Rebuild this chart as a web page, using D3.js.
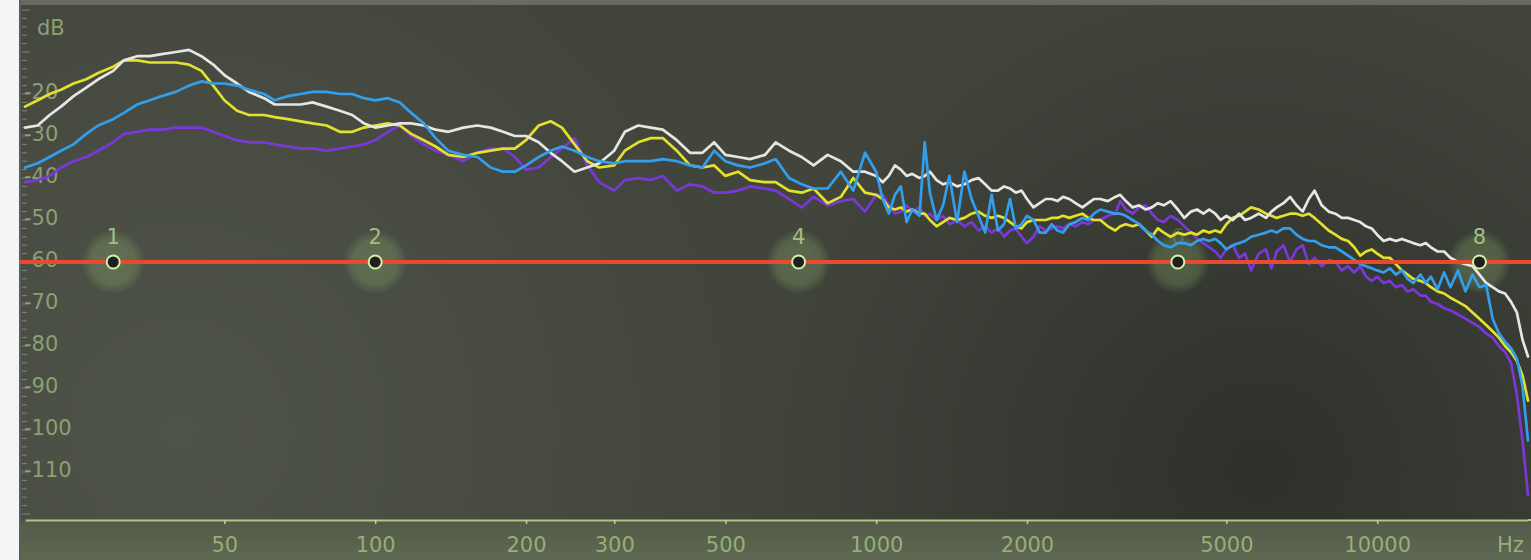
<!DOCTYPE html>
<html><head><meta charset="utf-8">
<script src="https://cdn.jsdelivr.net/npm/d3@7"></script>
<style>html,body{margin:0;padding:0;background:#f4f5f6;overflow:hidden}</style>
</head><body><svg id="c" width="1531" height="560"></svg>
<script>
// ---- data ----
const r40Freqs = [20,21.2,22.4,23.6,25,26.5,28,30,31.5,33.5,35.5,37.5,40,42.5,45,47.5,50,53,56,60,63,67,71,75,80,85,90,95,100,106,112,118,125,132,140,150,160,170,180,190,200,212,224,236,250,265,280,300,315,335,355,375,400,425,450,475,500,530,560,600,630,670,710,750,800,850,900,950,1000];
const r80Freqs = [1030,1060,1090,1120,1150,1180,1220,1250,1280,1320,1360,1400,1450,1500,1550,1600,1650,1700,1750,1800,1850,1900,1950,2000,2060,2120,2180,2240,2300,2360,2430,2500,2580,2650,2720,2800,2900,3000,3070,3150,3250,3350,3450,3550,3650,3750,3870,4000,4120,4250,4370,4500,4620,4750,4870,5000,5150,5300,5450,5600,5800,6000,6150,6300,6500,6700,6900,7100,7300,7500,7750,8000,8250,8500,8750,9000,9250,9500,9750,10000,10300,10600,10900,11200,11500,11800,12200,12500,12800,13200,13600,14000,14500,15000,15500,16000,16500,17000,17500,18000,18500,19000,19500,20000];
const freqs = r40Freqs.concat(r80Freqs);

const whiteDb = [-28,-27.5,-25,-23,-20.5,-18.5,-16.5,-14.5,-12,-11,-11,-10.5,-10,-9.5,-11,-13,-15.5,-17.5,-19.5,-21,-22.5,-22.5,-22.5,-22,-23,-24,-25,-27,-28,-27.5,-27,-27,-27.5,-28.5,-29,-28,-27.5,-28,-29,-30,-30,-31.5,-34,-36,-38.5,-37.5,-36.5,-33.5,-29,-27.5,-28,-28.5,-31,-34,-34,-31.5,-34.5,-35,-35.5,-34.5,-31.5,-33.5,-35,-37,-34.5,-36,-38.5,-38.5,-39.5,
 -41,-39.5,-37,-38,-39.5,-39,-40,-39.5,-38.5,-40.5,-41.5,-41,-42,-41.5,-40.5,-40,-41.5,-43,-43,-42,-42.5,-43.5,-43,-45,-47,-46,-45,-45,-45.5,-44.5,-45,-46,-47,-46,-45,-45,-45.5,-44.5,-44,-45.5,-47,-46.5,-47.5,-47,-46,-46.5,-45.5,-47.5,-49.5,-48,-47.5,-48.5,-47.5,-48.5,-50,-49,-50,-48.5,-50,-49.5,-48.5,-49.5,-48,-47,-46,-44.5,-46.5,-48,-45,-43,-46.5,-48,-48.5,-49.5,-49.5,-50,-50.5,-51.5,-52,-53.5,-55,-54.5,-55,-54.5,-55,-55.5,-56,-55.5,-56.5,-57.5,-57.5,-59,-60,-60.5,-61,-63,-65,-66,-67,-67.5,-69.5,-72,-78.5,-82.5];
const yellowDb = [-23,-21.5,-20,-19,-17.5,-16.5,-15,-13.5,-12,-12,-12.5,-12.5,-12.5,-13,-14.5,-18,-21.5,-24,-25,-25,-25.5,-26,-26.5,-27,-27.5,-29,-29,-28,-27.5,-27,-27.5,-29.5,-31,-32.5,-34.5,-35,-34,-33.5,-33,-33,-31,-27.5,-26.5,-28,-32,-36,-37.5,-37,-33.5,-31.5,-30.5,-30.5,-33.5,-37,-37.5,-37,-39.5,-38.5,-40.5,-41,-41,-43,-43.5,-42.5,-46,-44.5,-40,-43.5,-44,
 -45,-47,-47.5,-47,-48,-47.5,-48.5,-48.5,-50,-51.5,-50.5,-49.5,-50,-49.5,-48.5,-48,-49,-49.5,-49,-49.5,-50.5,-51.5,-52,-50.5,-50,-50,-50,-49.5,-49.5,-49,-49.5,-49,-48.5,-49.5,-50,-50,-51.5,-52.5,-51.5,-51,-51.5,-51,-52.5,-54,-52,-53,-54,-53,-53.5,-53,-53.5,-52.5,-53,-52.5,-53,-51,-49.5,-49,-48,-47,-47.5,-48.5,-49,-49.5,-49,-48.5,-48.5,-49,-48.5,-49.5,-51,-52.5,-53.5,-54.5,-55,-56.5,-58.5,-57.5,-57,-58,-59,-59,-60.5,-62,-63,-64,-64.5,-65,-66,-67,-67.5,-68.5,-69.5,-70.5,-72,-73.5,-75,-76.5,-78,-80,-81.5,-83.5,-87,-93];
const blueDb = [-37.5,-36.5,-35,-33.5,-32,-29.5,-27.5,-26,-24.5,-22.5,-21.5,-20.5,-19.5,-18,-17,-17.5,-17.5,-18,-19,-20,-21.5,-20.5,-20,-19.5,-19.5,-20,-20,-21,-21.5,-21,-22,-24.5,-27,-30.5,-33.5,-34.5,-35,-37.5,-38.5,-38.5,-37,-35,-33.5,-32.5,-33.5,-35,-36,-36.5,-36,-36,-36,-35.5,-36,-37,-37.5,-33.5,-36,-37,-37.5,-36.5,-35.5,-40,-41.5,-42.5,-42.5,-38.5,-43,-34,-38.5,
 -45,-48.5,-44,-42,-50.5,-47.5,-49,-31.5,-43.5,-50,-46.5,-39.5,-50.5,-38.5,-45,-49,-53,-44,-52.5,-51,-45,-52,-51,-49,-50,-53,-53,-51,-52.5,-53,-51,-50.5,-49.5,-50,-48.5,-47.5,-48,-48.5,-48.5,-49,-50,-51,-52.5,-53.5,-55,-56,-56.5,-55.5,-55.5,-56,-55,-54.5,-55,-54.5,-55.5,-57,-56,-55.5,-55,-54,-53.5,-53,-52.5,-53,-52,-52,-53.5,-54.5,-55,-55,-56,-56.5,-56.5,-57.5,-58.5,-59.5,-60.5,-61,-61.5,-62,-62.5,-61.5,-63,-62,-64,-65,-63,-65,-63.5,-66.5,-62.5,-66,-62,-67,-63,-66,-65.5,-73.5,-77,-79,-80.5,-83,-89.5,-102.5];
const purpleDb = [-41,-40.5,-39.5,-37.5,-36,-35,-33.5,-31.5,-29.5,-29,-28.5,-28.5,-28,-28,-28,-29,-30,-31,-31.5,-31.5,-32,-32.5,-33,-33,-33.5,-33,-32.5,-32,-31,-29,-27.5,-30,-32,-33.5,-34.5,-36,-34,-33,-33,-35,-38,-37.5,-35,-33,-30.5,-37,-41,-43,-40.5,-40,-40.5,-39.5,-43,-41.5,-42,-43.5,-43.5,-43,-42,-42.5,-43,-45,-47,-44.5,-46.5,-45.5,-45,-48,-44,
 -44,-46.5,-48.5,-48,-46.5,-48,-47,-49,-48.5,-50,-49,-51,-50,-51.5,-50.5,-52.5,-51.5,-53,-52,-54,-52.5,-52,-54,-55.5,-54,-51.5,-52.5,-52,-51.5,-52,-51,-51.5,-50.5,-51,-50,-50,-49,-48.5,-45.5,-47.5,-48.5,-47,-46.5,-48.5,-50,-50.5,-49,-50,-51.5,-53,-54.5,-55.5,-56.5,-57.5,-59,-57,-56,-59,-58,-62,-58,-57,-61.5,-57.5,-56,-60,-57,-56,-60.5,-59,-61,-59.5,-60,-62,-61,-62.5,-61,-63.5,-64.5,-63.5,-65,-64.5,-66,-65.5,-67,-66.5,-68,-68,-69.5,-70,-71,-71.5,-72.5,-73.5,-74.5,-75.5,-77,-78,-80,-81.5,-84,-91.5,-102.5,-115.5];

const seriesNames = ["purple","yellow","white","blue"];
const seriesValues = {purple: purpleDb, yellow: yellowDb, white: whiteDb, blue: blueDb};
const seriesColors = {purple:"#7a38d8", yellow:"#e3e12e", white:"#e6e6e2", blue:"#339fea"};

const xTickValues = [50,100,200,300,500,1000,2000,5000,10000];
const xTickLabels = ["50","100","200","300","500","1000","2000","5000","10000"];
const yTickValues = [-20,-30,-40,-50,-60,-70,-80,-90,-100,-110];
const yTickLabels = ["-20","-30","-40","-50","-60","-70","-80","-90","-100","-110"];
const bandFreqs = [30,100,700,4000,16000];
const bandLabels = ["1","2","4","6","8"];
const bandLabelOpacity = [1,1,1,0.25,1];
const bandLevel = -60;

// ---- chart ----
const W = 1531, H = 560;
const svg = d3.select("#c");
const x = d3.scaleLog().domain([20,20000]).range([25,1528]);
const y = d3.scaleLinear().domain([0,-120]).range([10,514]);
const FONT = "'DejaVu Sans', Verdana, sans-serif";

const defs = svg.append("defs");
const rg1 = defs.append("radialGradient").attr("id","dark").attr("gradientUnits","userSpaceOnUse")
  .attr("cx",1260).attr("cy",470).attr("r",520);
rg1.append("stop").attr("offset",0).attr("stop-color","#2c3029").attr("stop-opacity",0.95);
rg1.append("stop").attr("offset",1).attr("stop-color","#2c3029").attr("stop-opacity",0);
const rg2 = defs.append("radialGradient").attr("id","light").attr("gradientUnits","userSpaceOnUse")
  .attr("cx",180).attr("cy",430).attr("r",560);
rg2.append("stop").attr("offset",0).attr("stop-color","#50554a").attr("stop-opacity",0.9);
rg2.append("stop").attr("offset",1).attr("stop-color","#50554a").attr("stop-opacity",0);
const lg = defs.append("linearGradient").attr("id","bottom").attr("x1",0).attr("y1",0).attr("x2",0).attr("y2",1);
lg.append("stop").attr("offset",0).attr("stop-color","#535b48");
lg.append("stop").attr("offset",1).attr("stop-color","#5e6852");
const halo = defs.append("radialGradient").attr("id","halo");
halo.append("stop").attr("offset",0).attr("stop-color","#9fcf7c").attr("stop-opacity",0.28);
halo.append("stop").attr("offset",0.7).attr("stop-color","#9fcf7c").attr("stop-opacity",0.22);
halo.append("stop").attr("offset",1).attr("stop-color","#9fcf7c").attr("stop-opacity",0);

svg.append("rect").attr("width",W).attr("height",H).attr("fill","#f4f5f6");
svg.append("rect").attr("x",19).attr("y",0).attr("width",W-19).attr("height",H).attr("fill","#42453c");
svg.append("rect").attr("x",19).attr("y",0).attr("width",W-19).attr("height",H).attr("fill","url(#light)");
svg.append("rect").attr("x",19).attr("y",0).attr("width",W-19).attr("height",H).attr("fill","url(#dark)");
svg.append("rect").attr("x",19).attr("y",0).attr("width",W-19).attr("height",5).attr("fill","#686b61");
svg.append("rect").attr("x",19).attr("y",521).attr("width",W-19).attr("height",H-521).attr("fill","url(#bottom)");
svg.append("rect").attr("x",19).attr("y",0).attr("width",2).attr("height",H).attr("fill","#5b5e56");

// minor y ticks
svg.append("g").selectAll("line").data(d3.range(0,-121,-2)).join("line")
  .attr("x1",22).attr("x2",d => d % 10 === 0 ? 30 : 27)
  .attr("y1",d => y(d)).attr("y2",d => y(d))
  .attr("stroke","#80857a").attr("stroke-width",1);

// y axis labels
const yAxis = d3.axisRight(y).tickValues(yTickValues).tickSize(0).tickPadding(0)
  .tickFormat((d,i) => yTickLabels[i]);
const gy = svg.append("g").attr("transform","translate(24,0)").call(yAxis);
gy.select(".domain").remove();
gy.selectAll("text").attr("font-family",FONT).attr("font-size",21).attr("fill","#8e9f73")
  .attr("dy","0.3em").attr("y",-2);
svg.append("text").attr("x",37).attr("y",35).text("dB")
  .attr("font-family",FONT).attr("font-size",21).attr("fill","#8e9f73");

// x axis
const xAxis = d3.axisBottom(x).tickValues(xTickValues).tickSize(4).tickSizeOuter(0).tickPadding(13)
  .tickFormat((d,i) => xTickLabels[i]);
const gx = svg.append("g").attr("transform","translate(0,520)").call(xAxis);
gx.select(".domain").attr("stroke","#a9c97f").attr("stroke-width",2);
gx.selectAll(".tick line").attr("stroke","#b9d693").attr("stroke-width",1.5);
gx.selectAll("text").attr("font-family",FONT).attr("font-size",21).attr("fill","#97ae7a");
svg.append("line").attr("x1",1528).attr("x2",W).attr("y1",520).attr("y2",520)
  .attr("stroke","#a9c97f").attr("stroke-width",2);
svg.append("text").attr("x",1497).attr("y",552).text("Hz")
  .attr("font-family",FONT).attr("font-size",21).attr("fill","#97ae7a");

// band halos and labels (below curves)
const bands = bandFreqs.map((f,i) => ({f, label: bandLabels[i], op: bandLabelOpacity[i]}));
svg.append("g").selectAll("circle").data(bands).join("circle")
  .attr("cx",d => x(d.f)).attr("cy",y(bandLevel)).attr("r",32).attr("fill","url(#halo)");
svg.append("g").selectAll("text").data(bands).join("text")
  .attr("x",d => x(d.f)).attr("y",y(bandLevel)-18).attr("text-anchor","middle")
  .attr("font-family",FONT).attr("font-size",21).attr("fill","#a3bf83")
  .attr("opacity",d => d.op).text(d => d.label);

// curves
const line = d3.line().x(d => x(d[0])).y(d => y(d[1]));
seriesNames.forEach(name => {
  const vals = seriesValues[name];
  const n = Math.min(vals.length, freqs.length);
  const pts = d3.range(n).map(i => [freqs[i], vals[i]]);
  svg.append("path").datum(pts).attr("d",line).attr("fill","none")
    .attr("stroke",seriesColors[name]).attr("stroke-width",2.7)
    .attr("stroke-linejoin","round").attr("stroke-linecap","round");
});

// red level line
svg.append("line").attr("x1",19).attr("x2",W).attr("y1",y(bandLevel)).attr("y2",y(bandLevel))
  .attr("stroke","#e8492f").attr("stroke-width",4);

// band markers
svg.append("g").selectAll("circle").data(bands).join("circle")
  .attr("cx",d => x(d.f)).attr("cy",y(bandLevel)).attr("r",6.5)
  .attr("fill","#1e201b").attr("stroke","#d6efb0").attr("stroke-width",2);
</script></body></html>
